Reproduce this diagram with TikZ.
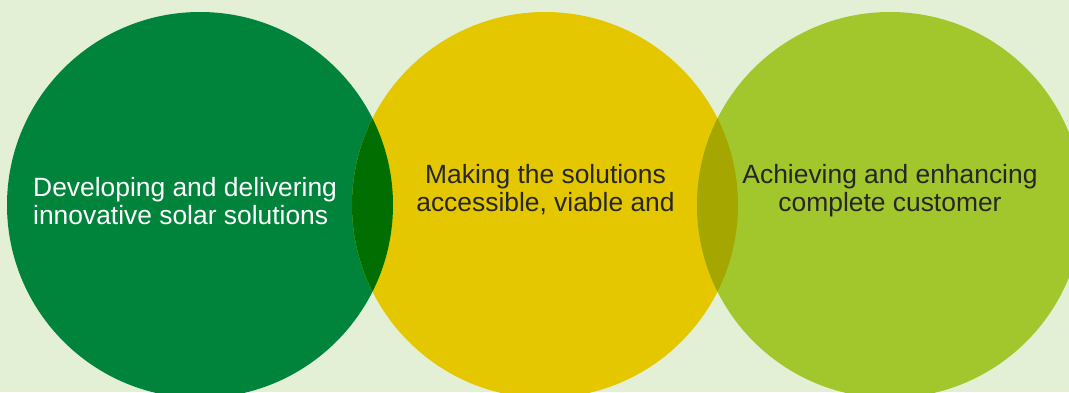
\documentclass[tikz,border=0pt]{standalone}
\usepackage{fontspec}
\setmainfont{Liberation Sans}
\definecolor{bg}{RGB}{227,240,214}
\definecolor{cgreen}{RGB}{0,132,60}
\definecolor{cyellow}{RGB}{229,199,0}
\definecolor{clime}{RGB}{162,199,45}
\definecolor{cdkgreen}{RGB}{0,110,0}
\definecolor{colive}{RGB}{165,166,0}
\definecolor{ctext}{RGB}{38,38,38}
\begin{document}
\begin{tikzpicture}[x=1pt,y=-1pt,
  lbl/.style={font=\fontsize{26.4}{28}\selectfont, inner sep=0pt},
  disc/.style={circle, minimum size=386pt, inner sep=0pt, draw=none}]
\useasboundingbox (0,0) rectangle (1069,392);
\fill[bg] (0,0) rectangle (1069,392);
\node[disc, fill=cgreen] (g) at (200,205) {};
\node[disc, fill=cyellow] (y) at (545,205) {};
\node[disc, fill=clime] (l) at (890,205) {};
\begin{scope}
  \clip (200,205) circle[radius=193];
  \fill[cdkgreen] (545,205) circle[radius=193];
\end{scope}
\begin{scope}
  \clip (545,205) circle[radius=193];
  \fill[colive] (890,205) circle[radius=193];
\end{scope}
\node[lbl, text=white, align=left, anchor=base west] (tg) at (33,224) {Developing and delivering\\innovative solar solutions};
\node[lbl, text=ctext, align=center, anchor=base] (ty) at (545.5,211) {Making the solutions\\accessible, viable and};
\node[lbl, text=ctext, align=center, anchor=base] (tl) at (890,211) {Achieving and enhancing\\complete customer};
\end{tikzpicture}
\end{document}
